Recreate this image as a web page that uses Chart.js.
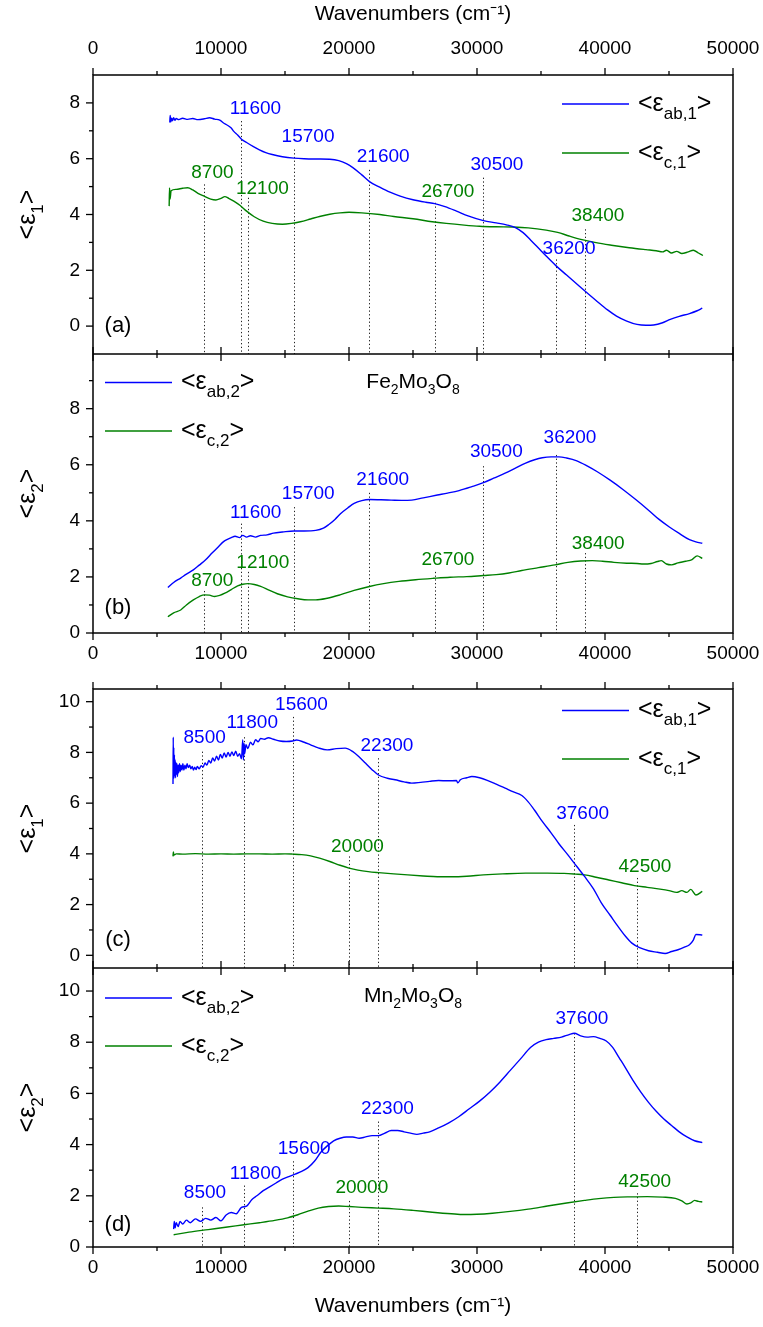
<!DOCTYPE html>
<html>
<head>
<meta charset="utf-8">
<script src="https://cdn.jsdelivr.net/npm/chart.js@4.4.0/dist/chart.umd.min.js"></script>
<style>
  html, body { margin: 0; padding: 0; background: #fff; }
  #fig { position: relative; width: 763px; height: 1327px; }
  canvas { position: absolute; left: 0; }
</style>
</head>
<body>
<div id="fig">
  <canvas id="panelA" width="763" height="354" style="top:0px"></canvas>
  <canvas id="panelB" width="763" height="309" style="top:354px"></canvas>
  <canvas id="panelC" width="763" height="308" style="top:660px"></canvas>
  <canvas id="panelD" width="763" height="359" style="top:968px"></canvas>
</div>
<script>
// ---- axis ticks ----
const xMajor = [0, 10000, 20000, 30000, 40000, 50000];
const xMinor = [5000, 15000, 25000, 35000, 45000];
const yMajorA = [0, 2, 4, 6, 8];
const yMinorA = [1, 3, 5, 7];
const yMajorB = [0, 2, 4, 6, 8];
const yMinorB = [1, 3, 5, 7, 9];
const yMajorCD = [0, 2, 4, 6, 8, 10];
const yMinorCD = [1, 3, 5, 7, 9];

// ---- Fe2Mo3O8, <eps1> (panel a) ----
const feAb1 = [[6000,7.30],[6030,7.55],[6080,7.32],[6150,7.45],[6220,7.36],[6300,7.47],[6400,7.38],[6500,7.44],[6700,7.40],[7000,7.45],[7400,7.41],[7800,7.44],[8200,7.40],[8700,7.43],[9100,7.47],[9500,7.42],[9900,7.38],[10200,7.28],[10500,7.20],[10800,7.10],[11000,6.98],[11300,6.85],[11600,6.70],[12000,6.58],[12500,6.44],[13000,6.32],[13500,6.22],[14000,6.15],[14800,6.07],[15700,6.02],[16500,6.00],[17500,5.99],[18500,5.98],[19200,5.93],[19800,5.82],[20300,5.68],[21000,5.42],[21600,5.18],[22400,4.98],[23200,4.80],[24000,4.66],[25000,4.53],[26000,4.44],[26700,4.39],[27500,4.28],[28400,4.12],[29300,3.95],[30500,3.78],[31500,3.70],[32300,3.63],[33000,3.53],[33600,3.35],[34200,3.08],[35000,2.70],[35600,2.42],[36200,2.15],[37000,1.83],[38000,1.43],[39300,0.92],[40200,0.58],[40900,0.36],[41700,0.18],[42500,0.06],[43200,0.03],[43800,0.04],[44500,0.12],[45100,0.24],[45800,0.35],[46600,0.45],[47200,0.55],[47600,0.64]];
const feC1 = [[5950,4.30],[5980,4.95],[6020,4.55],[6100,4.85],[6500,4.90],[7000,4.94],[7400,4.96],[7800,4.88],[8200,4.76],[8700,4.65],[9200,4.55],[9600,4.52],[10000,4.58],[10300,4.64],[10600,4.58],[11000,4.48],[11500,4.32],[12000,4.12],[12600,3.92],[13300,3.76],[14000,3.68],[14800,3.65],[15500,3.68],[16200,3.74],[17000,3.84],[17700,3.93],[18500,4.01],[19300,4.06],[20000,4.08],[21000,4.06],[22400,4.00],[23500,3.93],[25000,3.85],[26500,3.74],[27600,3.68],[29000,3.62],[30200,3.58],[31500,3.56],[32800,3.55],[34000,3.52],[35400,3.44],[36300,3.36],[37200,3.23],[38200,3.10],[39300,2.99],[40500,2.90],[41900,2.81],[43200,2.74],[44000,2.70],[44500,2.66],[44800,2.72],[45200,2.62],[45600,2.68],[46000,2.60],[46500,2.66],[46900,2.72],[47300,2.62],[47650,2.53]];

// ---- Fe2Mo3O8, <eps2> (panel b) ----
const feAb2 = [[5850,1.62],[6300,1.80],[6850,1.96],[7300,2.10],[7840,2.25],[8300,2.42],[8800,2.61],[9300,2.85],[9800,3.08],[10200,3.26],[10500,3.34],[10800,3.40],[11100,3.45],[11450,3.40],[11700,3.48],[12000,3.42],[12300,3.47],[12700,3.42],[13100,3.48],[13600,3.50],[14100,3.56],[14800,3.60],[15700,3.64],[16500,3.64],[17400,3.66],[18000,3.74],[18400,3.86],[18900,4.05],[19400,4.28],[19900,4.46],[20400,4.62],[21000,4.72],[21600,4.76],[22500,4.75],[23300,4.74],[24100,4.73],[24900,4.74],[25800,4.82],[26900,4.92],[27700,4.99],[28600,5.08],[29600,5.22],[30500,5.36],[31300,5.52],[32200,5.70],[33000,5.88],[33800,6.06],[34500,6.18],[35100,6.25],[35800,6.28],[36400,6.28],[37000,6.24],[37800,6.14],[38600,5.96],[39400,5.75],[40400,5.45],[41400,5.12],[42400,4.76],[43400,4.38],[44200,4.06],[45000,3.79],[45800,3.55],[46600,3.33],[47100,3.25],[47600,3.20]];
const feC2 = [[5850,0.58],[6300,0.72],[6850,0.82],[7300,1.00],[7840,1.18],[8300,1.30],[8700,1.36],[9100,1.35],[9500,1.30],[9900,1.34],[10300,1.42],[10800,1.55],[11300,1.68],[11700,1.74],[12100,1.76],[12600,1.73],[13100,1.66],[13700,1.54],[14400,1.40],[15200,1.29],[16000,1.22],[16800,1.18],[17400,1.18],[18300,1.24],[19300,1.36],[20400,1.52],[21600,1.66],[22700,1.76],[23900,1.84],[25200,1.90],[26600,1.95],[27900,1.99],[29200,2.01],[30500,2.05],[31500,2.08],[32500,2.14],[33500,2.23],[34800,2.33],[36100,2.43],[37100,2.52],[38100,2.57],[39000,2.58],[39800,2.56],[40700,2.52],[41700,2.49],[42500,2.48],[43000,2.46],[43600,2.48],[44100,2.55],[44400,2.58],[44800,2.46],[45200,2.43],[45700,2.50],[46300,2.56],[46800,2.62],[47200,2.75],[47600,2.66]];

// ---- Mn2Mo3O8, <eps1> (panel c) ----
const mnAb1 = [[6250,6.75],[6270,8.60],[6290,6.95],[6310,8.20],[6330,7.00],[6360,7.90],[6390,7.10],[6420,7.70],[6450,7.00],[6480,7.60],[6520,7.15],[6560,7.55],[6600,7.05],[6650,7.50],[6700,7.20],[6760,7.55],[6820,7.25],[6880,7.50],[6950,7.30],[7020,7.55],[7100,7.30],[7180,7.50],[7260,7.35],[7350,7.55],[7450,7.40],[7550,7.50],[7650,7.35],[7750,7.45],[7850,7.30],[7950,7.42],[8050,7.32],[8150,7.45],[8300,7.35],[8450,7.48],[8600,7.42],[8750,7.58],[8900,7.50],[9050,7.68],[9200,7.58],[9350,7.78],[9500,7.66],[9650,7.85],[9800,7.70],[9950,7.92],[10100,7.78],[10250,7.98],[10400,7.82],[10550,8.00],[10700,7.85],[10850,8.02],[11000,7.88],[11150,8.05],[11300,7.85],[11450,7.95],[11600,7.75],[11700,8.50],[11750,7.70],[11800,8.35],[11850,7.95],[11950,8.30],[12100,8.15],[12300,8.40],[12500,8.30],[12700,8.50],[12900,8.42],[13100,8.55],[13400,8.52],[13700,8.58],[14100,8.52],[14600,8.45],[15100,8.43],[15600,8.45],[15900,8.49],[16500,8.40],[17000,8.30],[17600,8.18],[18300,8.10],[19000,8.15],[19700,8.17],[20300,8.03],[20800,7.82],[21300,7.57],[21800,7.32],[22300,7.11],[23000,6.98],[23600,6.92],[24300,6.84],[24900,6.79],[25600,6.82],[26300,6.86],[27000,6.89],[27700,6.88],[28400,6.89],[28500,6.80],[28700,6.92],[29200,7.00],[29600,7.05],[30200,7.00],[30800,6.90],[31500,6.75],[32200,6.59],[32800,6.45],[33500,6.30],[34000,6.05],[34500,5.72],[35100,5.28],[35800,4.82],[36400,4.40],[37100,3.96],[37800,3.50],[38400,3.11],[39100,2.62],[39700,2.08],[40400,1.58],[41000,1.15],[41600,0.75],[42100,0.48],[42700,0.30],[43400,0.18],[44100,0.12],[44700,0.07],[45200,0.15],[45700,0.22],[46200,0.32],[46600,0.42],[46900,0.60],[47100,0.82],[47600,0.80]];
const mnC1 = [[6250,3.90],[6280,4.08],[6320,3.95],[6500,4.00],[7000,3.99],[8000,4.01],[9000,3.99],[10000,4.00],[11000,3.99],[12000,4.00],[13000,4.00],[14000,3.99],[15000,4.00],[15600,3.99],[16300,3.97],[17000,3.92],[17700,3.83],[18500,3.70],[19300,3.55],[20000,3.44],[20700,3.36],[21500,3.30],[22300,3.26],[23500,3.21],[24600,3.17],[25800,3.13],[26900,3.10],[28000,3.10],[29200,3.12],[30500,3.17],[32000,3.21],[33800,3.24],[35500,3.24],[36800,3.23],[37700,3.20],[38400,3.17],[39300,3.08],[40300,2.97],[41300,2.86],[42300,2.75],[43300,2.68],[44300,2.61],[45000,2.55],[45600,2.48],[46000,2.55],[46400,2.48],[46700,2.60],[47100,2.38],[47600,2.52]];

// ---- Mn2Mo3O8, <eps2> (panel d) ----
const mnAb2 = [[6300,0.70],[6350,1.00],[6420,0.75],[6500,0.95],[6650,0.80],[6800,1.00],[7000,0.90],[7300,1.05],[7600,0.95],[8000,1.10],[8400,1.00],[8800,1.12],[9200,1.05],[9600,1.15],[10000,1.02],[10400,1.25],[10800,1.35],[11200,1.30],[11600,1.55],[12000,1.60],[12400,1.85],[12800,2.00],[13300,2.20],[13800,2.35],[14300,2.50],[14800,2.65],[15300,2.75],[15800,2.85],[16300,2.95],[16800,3.10],[17300,3.35],[17800,3.70],[18300,3.95],[18800,4.15],[19300,4.25],[19800,4.30],[20300,4.30],[20800,4.25],[21300,4.30],[21800,4.35],[22300,4.35],[22800,4.45],[23300,4.55],[23800,4.55],[24300,4.50],[24800,4.45],[25300,4.40],[25800,4.45],[26300,4.50],[27000,4.65],[27800,4.85],[28600,5.10],[29400,5.40],[30200,5.70],[31000,6.05],[31800,6.45],[32600,6.90],[33400,7.35],[34200,7.80],[34800,8.00],[35400,8.10],[36000,8.15],[36600,8.20],[37200,8.30],[37600,8.35],[38100,8.25],[38600,8.20],[39100,8.22],[39600,8.15],[40100,8.05],[40600,7.80],[41100,7.40],[41600,7.00],[42200,6.50],[42800,6.05],[43400,5.65],[44000,5.30],[44600,5.00],[45200,4.75],[45800,4.50],[46400,4.30],[47000,4.15],[47600,4.08]];
const mnC2 = [[6300,0.48],[7500,0.58],[9000,0.68],[10500,0.78],[11800,0.87],[13000,0.95],[14200,1.04],[15200,1.14],[16000,1.26],[16800,1.40],[17600,1.52],[18400,1.58],[19200,1.60],[20000,1.58],[21000,1.55],[22300,1.52],[23500,1.49],[25000,1.43],[26500,1.36],[28000,1.30],[29000,1.27],[30000,1.28],[31200,1.32],[32600,1.39],[34000,1.48],[35500,1.60],[37000,1.72],[38400,1.82],[39500,1.89],[40700,1.94],[42000,1.96],[43300,1.97],[44500,1.95],[45500,1.90],[46000,1.80],[46400,1.68],[46700,1.72],[47000,1.82],[47300,1.78],[47600,1.76]];

// ---- marked peaks (cm^-1) ----
const feBluePeaks = [11600, 15700, 21600, 30500, 36200];
const feGreenPeaks = [8700, 12100, 26700, 38400];
const mnBluePeaks = [8500, 11800, 15600, 22300, 37600];
const mnGreenPeaks = [20000, 42500];

// where each peak label sits [x, y] and where its dotted line starts (y), per panel
const aBlueSpots = [[12690,7.79],[16800,6.79],[22670,6.08],[31560,5.80],[37190,2.78]];
const aBlueTops = [7.35, 6.33, 5.6, 5.32, 2.39];
const aGreenSpots = [[9330,5.50],[13230,4.94],[27730,4.80],[39450,3.94]];
const aGreenTops = [5.08, 4.6, 4.42, 3.47];
const bBlueSpots = [[12705,4.29],[16815,4.98],[22635,5.46],[31510,6.46],[37265,6.97]];
const bBlueTops = [3.9, 4.49, 5.0, 5.95, 6.35];
const bGreenSpots = [[9320,1.87],[13265,2.51],[27730,2.61],[39470,3.20]];
const bGreenTops = [1.5, 2.18, 2.18, 2.85];
const cBlueSpots = [[8725,8.56],[12440,9.17],[16290,9.87],[22965,8.26],[38250,5.58]];
const cBlueTops = [8.03, 8.6, 9.4, 7.77, 5.14];
const cGreenSpots = [[20660,4.29],[43120,3.48]];
const cGreenTops = [3.9, 3.05];
const dBlueSpots = [[8750,2.1],[12700,2.85],[16500,3.85],[23000,5.4],[38200,8.9]];
const dBlueTops = [1.55, 2.4, 3.35, 4.9, 8.35];
const dGreenSpots = [[21000,2.3],[43100,2.55]];
const dGreenTops = [1.8, 2.1];

const FONT = "'Liberation Sans', Arial, sans-serif";
const BLUE = '#0000ff';
const GREEN = '#008000';

function toPoints(arr) {
  return arr.map(p => ({ x: p[0], y: p[1] }));
}

// draw text with subscripts, parts = [{t, sub}]
function richText(ctx, parts, x, y, size, color, align) {
  const subSize = Math.round(size * 0.68);
  const widths = parts.map(p => {
    ctx.font = (p.sub ? subSize : size) + 'px ' + FONT;
    return ctx.measureText(p.t).width;
  });
  const total = widths.reduce((a, b) => a + b, 0);
  let cx = x;
  if (align === 'center') cx = x - total / 2;
  if (align === 'right') cx = x - total;
  ctx.fillStyle = color;
  ctx.textAlign = 'left';
  ctx.textBaseline = 'middle';
  parts.forEach((p, i) => {
    ctx.font = (p.sub ? subSize : size) + 'px ' + FONT;
    ctx.fillText(p.t, cx, p.sub ? y + size * 0.4 : y);
    cx += widths[i];
  });
}

const decorPlugin = {
  id: 'decor',
  beforeDatasetsDraw(chart, args, opts) {
    const ctx = chart.ctx, xs = chart.scales.x, ys = chart.scales.y, area = chart.chartArea;
    ctx.save();
    ctx.strokeStyle = '#222';
    ctx.lineWidth = 1;
    ctx.setLineDash([1.3, 2.4]);
    opts.marks.forEach(m => {
      m.peaks.forEach((v, i) => {
        const px = Math.round(xs.getPixelForValue(v)) + 0.5;
        ctx.beginPath();
        ctx.moveTo(px, ys.getPixelForValue(m.tops[i]));
        ctx.lineTo(px, area.bottom);
        ctx.stroke();
      });
    });
    ctx.restore();
  },
  afterDraw(chart, args, opts) {
    const ctx = chart.ctx, xs = chart.scales.x, ys = chart.scales.y, area = chart.chartArea;
    ctx.save();

    // peak labels
    opts.marks.forEach(m => {
      ctx.font = '19px ' + FONT;
      ctx.fillStyle = m.color;
      ctx.textAlign = 'center';
      ctx.textBaseline = 'middle';
      m.peaks.forEach((v, i) => {
        ctx.fillText(String(v), xs.getPixelForValue(m.spots[i][0]), ys.getPixelForValue(m.spots[i][1]));
      });
    });

    // frame
    ctx.strokeStyle = '#000';
    ctx.lineWidth = 1.5;
    ctx.strokeRect(area.left, area.top, area.right - area.left, area.bottom - area.top);

    // tick marks
    ctx.lineWidth = 1.3;
    const xTick = (v, len, edge, dir) => {
      const px = xs.getPixelForValue(v);
      const y0 = edge === 'top' ? area.top : area.bottom;
      const sign = (edge === 'top') === (dir === 'out') ? -1 : 1;
      ctx.beginPath();
      ctx.moveTo(px, y0);
      ctx.lineTo(px, y0 + sign * len);
      ctx.stroke();
    };
    xMajor.forEach(v => { xTick(v, 7, 'top', opts.topTicks); xTick(v, 7, 'bottom', opts.bottomTicks); });
    xMinor.forEach(v => { xTick(v, 4, 'top', opts.topTicks); xTick(v, 4, 'bottom', opts.bottomTicks); });
    const yTick = (v, len) => {
      const py = ys.getPixelForValue(v);
      ctx.beginPath();
      ctx.moveTo(area.left, py);
      ctx.lineTo(area.left - len, py);
      ctx.stroke();
    };
    opts.yMajor.forEach(v => yTick(v, 7));
    opts.yMinor.forEach(v => yTick(v, 4));

    // legend
    const lg = opts.legend;
    lg.rows.forEach((r, i) => {
      const y = area.top + lg.offsets[i];
      const x0 = lg.side === 'right' ? area.right - 171 : area.left + 12;
      ctx.strokeStyle = r.color;
      ctx.lineWidth = 1.4;
      ctx.beginPath();
      ctx.moveTo(x0, y);
      ctx.lineTo(x0 + 67, y);
      ctx.stroke();
      richText(ctx, r.parts, x0 + 76, y, 25, '#000', 'left');
    });

    // compound name
    if (opts.formula) {
      richText(ctx, opts.formula, xs.getPixelForValue(25000), area.top + 28, 21, '#000', 'center');
    }

    // panel letter
    ctx.font = '22px ' + FONT;
    ctx.fillStyle = '#000';
    ctx.textAlign = 'center';
    ctx.textBaseline = 'middle';
    ctx.fillText(opts.letter, area.left + 25, ys.getPixelForValue(opts.letterY));

    // y axis title
    ctx.translate(28, (area.top + area.bottom) / 2);
    ctx.rotate(-Math.PI / 2);
    richText(ctx, opts.yTitle, 0, 0, 25, '#000', 'center');
    ctx.restore();
  }
};

function eps(sub) {
  return [{ t: '<\u03b5' }, { t: sub, sub: true }, { t: '>' }];
}

function makePanel(id, p) {
  return new Chart(document.getElementById(id), {
    type: 'line',
    data: {
      datasets: [
        { data: toPoints(p.ab), borderColor: BLUE, borderWidth: 1.4, pointRadius: 0, cubicInterpolationMode: 'monotone', fill: false },
        { data: toPoints(p.c), borderColor: GREEN, borderWidth: 1.4, pointRadius: 0, cubicInterpolationMode: 'monotone', fill: false },
      ],
    },
    options: {
      responsive: false,
      animation: false,
      devicePixelRatio: 1,
      layout: { padding: { left: 0, right: 30, top: 0, bottom: 0 } },
      plugins: {
        legend: { display: false },
        tooltip: { enabled: false },
        decor: p.decor,
      },
      scales: {
        x: {
          type: 'linear',
          position: p.xPos,
          min: 0,
          max: 50000,
          afterBuildTicks: s => { s.ticks = xMajor.map(v => ({ value: v })); },
          afterFit: s => {
            s.height = p.xHeight;
            s.paddingLeft = 0;
            s.paddingRight = 0;
            s.paddingTop = 0;
            s.paddingBottom = 0;
          },
          grid: { display: false, drawTicks: false },
          border: { display: false },
          ticks: {
            display: p.xLabels,
            color: '#000',
            font: { family: FONT, size: 19 },
            padding: p.xPad,
            maxRotation: 0,
            autoSkip: false,
            callback: v => String(v),
          },
          title: {
            display: !!p.xTitle,
            text: 'Wavenumbers (cm\u207B\u00B9)',
            color: '#000',
            font: { family: FONT, size: 21 },
            padding: p.xTitlePad || 0,
          },
        },
        y: {
          min: p.yMin,
          max: p.yMax,
          afterBuildTicks: s => { s.ticks = p.decor.yMajor.map(v => ({ value: v })); },
          afterFit: s => {
            s.width = 93;
            s.paddingTop = 0;
            s.paddingBottom = 0;
            s.paddingLeft = 0;
            s.paddingRight = 0;
          },
          grid: { display: false, drawTicks: false },
          border: { display: false },
          ticks: {
            color: '#000',
            font: { family: FONT, size: 19 },
            padding: 13,
            callback: v => String(v),
          },
        },
      },
    },
    plugins: [decorPlugin],
  });
}

const feFormula = [{ t: 'Fe' }, { t: '2', sub: true }, { t: 'Mo' }, { t: '3', sub: true }, { t: 'O' }, { t: '8', sub: true }];
const mnFormula = [{ t: 'Mn' }, { t: '2', sub: true }, { t: 'Mo' }, { t: '3', sub: true }, { t: 'O' }, { t: '8', sub: true }];

makePanel('panelA', {
  ab: feAb1, c: feC1, yMin: -1, yMax: 9,
  xPos: 'top', xHeight: 75, xLabels: true, xPad: 15, xTitle: true, xTitlePad: { top: 2 },
  decor: {
    yMajor: yMajorA, yMinor: yMinorA, topTicks: 'out', bottomTicks: 'in',
    letter: '(a)', letterY: 0, yTitle: eps('1'),
    legend: { side: 'right', offsets: [29, 78], rows: [{ color: BLUE, parts: eps('ab,1') }, { color: GREEN, parts: eps('c,1') }] },
    marks: [
      { color: BLUE, peaks: feBluePeaks, spots: aBlueSpots, tops: aBlueTops },
      { color: GREEN, peaks: feGreenPeaks, spots: aGreenSpots, tops: aGreenTops },
    ],
  },
});

makePanel('panelB', {
  ab: feAb2, c: feC2, yMin: 0, yMax: 9.95,
  xPos: 'bottom', xHeight: 30, xLabels: true, xPad: 9,
  decor: {
    yMajor: yMajorB, yMinor: yMinorB, topTicks: 'in', bottomTicks: 'out',
    letter: '(b)', letterY: 0.89, yTitle: eps('2'), formula: feFormula,
    legend: { side: 'left', offsets: [28.5, 77], rows: [{ color: BLUE, parts: eps('ab,2') }, { color: GREEN, parts: eps('c,2') }] },
    marks: [
      { color: BLUE, peaks: feBluePeaks, spots: bBlueSpots, tops: bBlueTops },
      { color: GREEN, peaks: feGreenPeaks, spots: bGreenSpots, tops: bGreenTops },
    ],
  },
});

makePanel('panelC', {
  ab: mnAb1, c: mnC1, yMin: -0.5, yMax: 10.5,
  xPos: 'top', xHeight: 29, xLabels: false, xPad: 0,
  decor: {
    yMajor: yMajorCD, yMinor: yMinorCD, topTicks: 'out', bottomTicks: 'in',
    letter: '(c)', letterY: 0.62, yTitle: eps('1'),
    legend: { side: 'right', offsets: [21.5, 70], rows: [{ color: BLUE, parts: eps('ab,1') }, { color: GREEN, parts: eps('c,1') }] },
    marks: [
      { color: BLUE, peaks: mnBluePeaks, spots: cBlueSpots, tops: cBlueTops },
      { color: GREEN, peaks: mnGreenPeaks, spots: cGreenSpots, tops: cGreenTops },
    ],
  },
});

makePanel('panelD', {
  ab: mnAb2, c: mnC2, yMin: 0, yMax: 10.9,
  xPos: 'bottom', xHeight: 80, xLabels: true, xPad: 9, xTitle: true, xTitlePad: { bottom: 8 },
  decor: {
    yMajor: yMajorCD, yMinor: yMinorCD, topTicks: 'in', bottomTicks: 'out',
    letter: '(d)', letterY: 0.87, yTitle: eps('2'), formula: mnFormula,
    legend: { side: 'left', offsets: [30, 78], rows: [{ color: BLUE, parts: eps('ab,2') }, { color: GREEN, parts: eps('c,2') }] },
    marks: [
      { color: BLUE, peaks: mnBluePeaks, spots: dBlueSpots, tops: dBlueTops },
      { color: GREEN, peaks: mnGreenPeaks, spots: dGreenSpots, tops: dGreenTops },
    ],
  },
});
</script>
</body>
</html>
